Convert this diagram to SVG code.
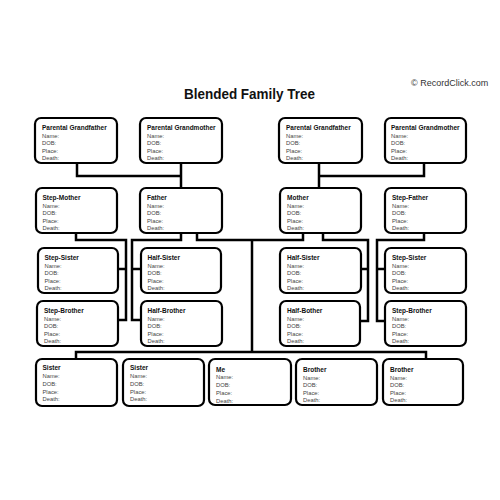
<svg xmlns="http://www.w3.org/2000/svg" width="500" height="500" viewBox="0 0 500 500">
<style>
.bg{fill:#ffffff}
.box{fill:#ffffff;stroke:#000000;stroke-width:2.2}
.conn{fill:none;stroke:#000000;stroke-width:2.5;stroke-linejoin:miter}
.t{font-family:"Liberation Sans",Arial,sans-serif;font-weight:bold;font-size:6.5px;fill:#111111}
.f{font-family:"Liberation Sans",Arial,sans-serif;font-size:5.8px;fill:#444444}
.title{font-family:"Liberation Sans",Arial,sans-serif;font-weight:bold;font-size:14px;fill:#111111}
.copy{font-family:"Liberation Sans",Arial,sans-serif;font-size:9px;fill:#333333}
</style>
<rect class="bg" x="0" y="0" width="500" height="500"/>
<text class="copy" x="411" y="86">© RecordClick.com</text>
<text class="title" x="249.5" y="98.5" text-anchor="middle" textLength="131" lengthAdjust="spacingAndGlyphs">Blended Family Tree</text>

<g id="connectors">
<path class="conn" d="M77,163 V176 H181"/>
<path class="conn" d="M181,163 V188"/>
<path class="conn" d="M319,163 V188"/>
<path class="conn" d="M319,176 H424 V163"/>
<path class="conn" d="M76,233 V240 H126 V320 H118"/>
<path class="conn" d="M118,269 H126"/>
<path class="conn" d="M181,233 V240 H132 V320 H141"/>
<path class="conn" d="M132,269 H141"/>
<path class="conn" d="M197,233 V240 H303 V233"/>
<path class="conn" d="M252,240 V352"/>
<path class="conn" d="M323,233 V240 H368 V321 H361"/>
<path class="conn" d="M361,269 H368"/>
<path class="conn" d="M424,233 V240 H377 V321 H385"/>
<path class="conn" d="M377,269 H385"/>
<path class="conn" d="M76,359 V352 H426 V359"/>
</g>

<g id="pgf-left">
<rect class="box" x="35" y="118" width="82" height="45" rx="6"/>
<text class="t" x="42" y="130">Parental Grandfather</text>
<text class="f" x="42" y="137.5">Name:</text><text class="f" x="42" y="145">DOB:</text><text class="f" x="42" y="152.5">Place:</text><text class="f" x="42" y="160">Death:</text>
</g>
<g id="pgm-left">
<rect class="box" x="140" y="118" width="82" height="45" rx="6"/>
<text class="t" x="147" y="130">Parental Grandmother</text>
<text class="f" x="147" y="137.5">Name:</text><text class="f" x="147" y="145">DOB:</text><text class="f" x="147" y="152.5">Place:</text><text class="f" x="147" y="160">Death:</text>
</g>
<g id="pgf-right">
<rect class="box" x="279" y="118" width="83" height="45" rx="6"/>
<text class="t" x="286" y="130">Parental Grandfather</text>
<text class="f" x="286" y="137.5">Name:</text><text class="f" x="286" y="145">DOB:</text><text class="f" x="286" y="152.5">Place:</text><text class="f" x="286" y="160">Death:</text>
</g>
<g id="pgm-right">
<rect class="box" x="385" y="118" width="81" height="45" rx="6"/>
<text class="t" x="391" y="130">Parental Grandmother</text>
<text class="f" x="391" y="137.5">Name:</text><text class="f" x="391" y="145">DOB:</text><text class="f" x="391" y="152.5">Place:</text><text class="f" x="391" y="160">Death:</text>
</g>

<g id="step-mother">
<rect class="box" x="36" y="188" width="81" height="45" rx="6"/>
<text class="t" x="42.5" y="200">Step-Mother</text>
<text class="f" x="42.5" y="207.5">Name:</text><text class="f" x="42.5" y="215">DOB:</text><text class="f" x="42.5" y="222.5">Place:</text><text class="f" x="42.5" y="230">Death:</text>
</g>
<g id="father">
<rect class="box" x="140" y="188" width="82" height="45" rx="6"/>
<text class="t" x="147" y="200">Father</text>
<text class="f" x="147" y="207.5">Name:</text><text class="f" x="147" y="215">DOB:</text><text class="f" x="147" y="222.5">Place:</text><text class="f" x="147" y="230">Death:</text>
</g>
<g id="mother">
<rect class="box" x="280" y="188" width="81" height="45" rx="6"/>
<text class="t" x="287" y="200">Mother</text>
<text class="f" x="287" y="207.5">Name:</text><text class="f" x="287" y="215">DOB:</text><text class="f" x="287" y="222.5">Place:</text><text class="f" x="287" y="230">Death:</text>
</g>
<g id="step-father">
<rect class="box" x="385" y="188" width="81" height="45" rx="6"/>
<text class="t" x="392" y="200">Step-Father</text>
<text class="f" x="392" y="207.5">Name:</text><text class="f" x="392" y="215">DOB:</text><text class="f" x="392" y="222.5">Place:</text><text class="f" x="392" y="230">Death:</text>
</g>

<g id="step-sister-left">
<rect class="box" x="38" y="248" width="80" height="45" rx="6"/>
<text class="t" x="44.5" y="260">Step-Sister</text>
<text class="f" x="44.5" y="267.5">Name:</text><text class="f" x="44.5" y="275">DOB:</text><text class="f" x="44.5" y="282.5">Place:</text><text class="f" x="44.5" y="290">Death:</text>
</g>
<g id="half-sister-left">
<rect class="box" x="141" y="248" width="80" height="45" rx="6"/>
<text class="t" x="147.5" y="260">Half-Sister</text>
<text class="f" x="147.5" y="267.5">Name:</text><text class="f" x="147.5" y="275">DOB:</text><text class="f" x="147.5" y="282.5">Place:</text><text class="f" x="147.5" y="290">Death:</text>
</g>
<g id="half-sister-right">
<rect class="box" x="280" y="248" width="81" height="45" rx="6"/>
<text class="t" x="287" y="260">Half-Sister</text>
<text class="f" x="287" y="267.5">Name:</text><text class="f" x="287" y="275">DOB:</text><text class="f" x="287" y="282.5">Place:</text><text class="f" x="287" y="290">Death:</text>
</g>
<g id="step-sister-right">
<rect class="box" x="385" y="248" width="81" height="45" rx="6"/>
<text class="t" x="392" y="260">Step-Sister</text>
<text class="f" x="392" y="267.5">Name:</text><text class="f" x="392" y="275">DOB:</text><text class="f" x="392" y="282.5">Place:</text><text class="f" x="392" y="290">Death:</text>
</g>

<g id="step-brother-left">
<rect class="box" x="37" y="301" width="81" height="45" rx="6"/>
<text class="t" x="44" y="313">Step-Brother</text>
<text class="f" x="44" y="320.5">Name:</text><text class="f" x="44" y="328">DOB:</text><text class="f" x="44" y="335.5">Place:</text><text class="f" x="44" y="343">Death:</text>
</g>
<g id="half-brother-left">
<rect class="box" x="141" y="301" width="81" height="45" rx="6"/>
<text class="t" x="147.5" y="313">Half-Brother</text>
<text class="f" x="147.5" y="320.5">Name:</text><text class="f" x="147.5" y="328">DOB:</text><text class="f" x="147.5" y="335.5">Place:</text><text class="f" x="147.5" y="343">Death:</text>
</g>
<g id="half-bother-right">
<rect class="box" x="280" y="301" width="80" height="45" rx="6"/>
<text class="t" x="287" y="313">Half-Bother</text>
<text class="f" x="287" y="320.5">Name:</text><text class="f" x="287" y="328">DOB:</text><text class="f" x="287" y="335.5">Place:</text><text class="f" x="287" y="343">Death:</text>
</g>
<g id="step-brother-right">
<rect class="box" x="385" y="301" width="81" height="45" rx="6"/>
<text class="t" x="392" y="313">Step-Brother</text>
<text class="f" x="392" y="320.5">Name:</text><text class="f" x="392" y="328">DOB:</text><text class="f" x="392" y="335.5">Place:</text><text class="f" x="392" y="343">Death:</text>
</g>

<g id="sister-1">
<rect class="box" x="36" y="359" width="81" height="47" rx="6"/>
<text class="t" x="42.5" y="370">Sister</text>
<text class="f" x="42.5" y="378">Name:</text><text class="f" x="42.5" y="386">DOB:</text><text class="f" x="42.5" y="393.5">Place:</text><text class="f" x="42.5" y="400.5">Death:</text>
</g>
<g id="sister-2">
<rect class="box" x="123" y="359" width="81" height="47" rx="6"/>
<text class="t" x="130" y="370">Sister</text>
<text class="f" x="130" y="378">Name:</text><text class="f" x="130" y="386">DOB:</text><text class="f" x="130" y="393.5">Place:</text><text class="f" x="130" y="400.5">Death:</text>
</g>
<g id="me">
<rect class="box" x="209" y="359" width="82" height="46" rx="6"/>
<text class="t" x="216" y="371.5">Me</text>
<text class="f" x="216" y="379">Name:</text><text class="f" x="216" y="387">DOB:</text><text class="f" x="216" y="395">Place:</text><text class="f" x="216" y="402.5">Death:</text>
</g>
<g id="brother-1">
<rect class="box" x="296" y="359" width="81" height="46" rx="6"/>
<text class="t" x="303" y="372">Brother</text>
<text class="f" x="303" y="379.5">Name:</text><text class="f" x="303" y="387">DOB:</text><text class="f" x="303" y="394.5">Place:</text><text class="f" x="303" y="402">Death:</text>
</g>
<g id="brother-2">
<rect class="box" x="383" y="359" width="80" height="46" rx="6"/>
<text class="t" x="390" y="372">Brother</text>
<text class="f" x="390" y="379.5">Name:</text><text class="f" x="390" y="387">DOB:</text><text class="f" x="390" y="394.5">Place:</text><text class="f" x="390" y="402">Death:</text>
</g>
</svg>
